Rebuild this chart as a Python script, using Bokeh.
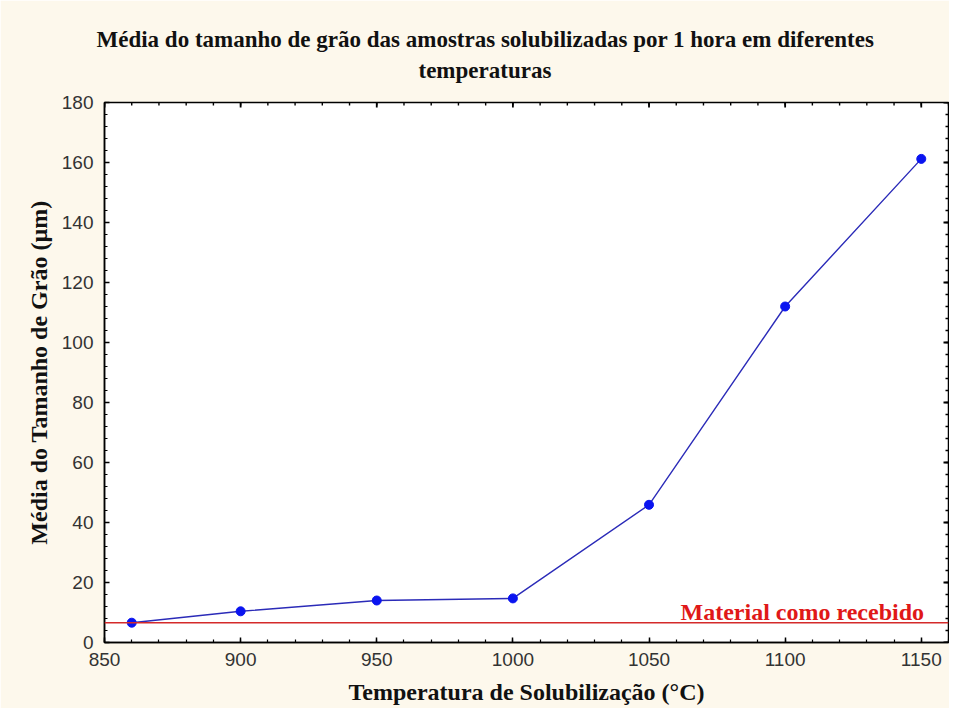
import math
from bokeh.plotting import figure
from bokeh.models import Range1d, Label, Span, FixedTicker, Title
from bokeh.embed import file_html
from bokeh.resources import INLINE

temperatures = [860, 900, 950, 1000, 1050, 1100, 1150]
grain_size = [6.6, 10.4, 14.0, 14.7, 45.9, 112.0, 161.2]
as_received = 6.6
as_received_label = "Material como recebido"
x_ticks = [850, 900, 950, 1000, 1050, 1100, 1150]
x_minor = list(range(850, 1161, 10))
y_ticks = [0, 20, 40, 60, 80, 100, 120, 140, 160, 180]
y_minor = list(range(0, 181, 4))
x_min, x_max = 850, 1160
y_min, y_max = 0, 180

title_line1 = "Média do tamanho de grão das amostras solubilizadas por 1 hora em diferentes"
title_line2 = "temperaturas"
x_label = "Temperatura de Solubilização (°C)"
y_label = "Média do Tamanho de Grão (µm)"

BG = "#FDF8EC"
SERIF = "Liberation Serif"
SANS = "Liberation Sans"

W, H = 949, 708
LEFT, RIGHT, TOP, BOTTOM = 104, 1, 102, 66

p = figure(width=W, height=H, output_backend="svg", toolbar_location=None,
           x_range=Range1d(x_min, x_max), y_range=Range1d(y_min, y_max),
           min_border_left=LEFT, min_border_right=RIGHT, min_border_top=TOP,
           min_border_bottom=BOTTOM,
           background_fill_color="white", border_fill_color=BG)
p.outline_line_color = "black"
p.outline_line_width = 1.5
p.grid.visible = False

p.xaxis.ticker = FixedTicker(ticks=x_ticks, minor_ticks=x_minor)
p.yaxis.ticker = FixedTicker(ticks=y_ticks, minor_ticks=y_minor)
for ax in (p.xaxis[0], p.yaxis[0]):
    ax.axis_line_color = "black"
    ax.axis_line_width = 1.5
    ax.major_tick_in = 5
    ax.major_tick_out = 0
    ax.minor_tick_in = 3
    ax.minor_tick_out = 0
    ax.major_tick_line_width = 1.5
    ax.minor_tick_line_width = 1.2
    ax.major_label_text_font = SANS
    ax.major_label_text_font_size = "19px"
    ax.major_label_text_color = "#333333"
    ax.axis_label_text_font = SERIF
    ax.axis_label_text_font_style = "bold"
    ax.axis_label_text_font_size = "24px"
    ax.axis_label_text_color = "#111111"
p.xaxis.axis_label = x_label
p.yaxis.axis_label = y_label
p.xaxis.major_label_standoff = 10
p.yaxis.major_label_standoff = 11
p.xaxis.axis_label_standoff = 10
p.yaxis.axis_label_standoff = 7

# inward ticks on the top and right edges
p.ray(x=x_ticks, y=[y_max] * len(x_ticks), length=5, length_units="screen",
      angle=-math.pi / 2, line_color="black", line_width=1.8)
p.ray(x=x_minor, y=[y_max] * len(x_minor), length=3, length_units="screen",
      angle=-math.pi / 2, line_color="black", line_width=1.4)
p.ray(x=[x_max] * len(y_ticks), y=y_ticks, length=5, length_units="screen",
      angle=math.pi, line_color="black", line_width=1.8)
p.ray(x=[x_max] * len(y_minor), y=y_minor, length=3, length_units="screen",
      angle=math.pi, line_color="black", line_width=1.4)

# two-line title
t2 = Title(text=title_line2, align="left", vertical_align="top", text_font=SERIF,
           text_font_style="bold", text_font_size="23px", text_color="#111111",
           offset=314, standoff=36)
p.add_layout(t2, "above")
t1 = Title(text=title_line1, align="left", vertical_align="bottom", text_font=SERIF,
           text_font_style="bold", text_font_size="23px", text_color="#111111",
           offset=-8, standoff=0)
try:
    t1.standoff = -24
except Exception:
    t2.standoff = 28
    t2.vertical_align = "bottom"
    t1.standoff = 4
p.add_layout(t1, "above")

p.add_layout(Span(location=as_received, dimension="width", line_color="#D42A2A", line_width=1.6))
p.add_layout(Label(x=1151, y=as_received, text=as_received_label, text_align="right",
                   text_baseline="bottom", y_offset=-2, text_font=SERIF,
                   text_font_style="bold", text_font_size="24px", text_color="#E01818"))

p.line(temperatures, grain_size, line_color="#2B2BB8", line_width=1.4)
p.scatter(temperatures, grain_size, size=9, fill_color="#0A14F0", line_color="#0A14F0")

open("out.html", "w").write(file_html(p, INLINE))
